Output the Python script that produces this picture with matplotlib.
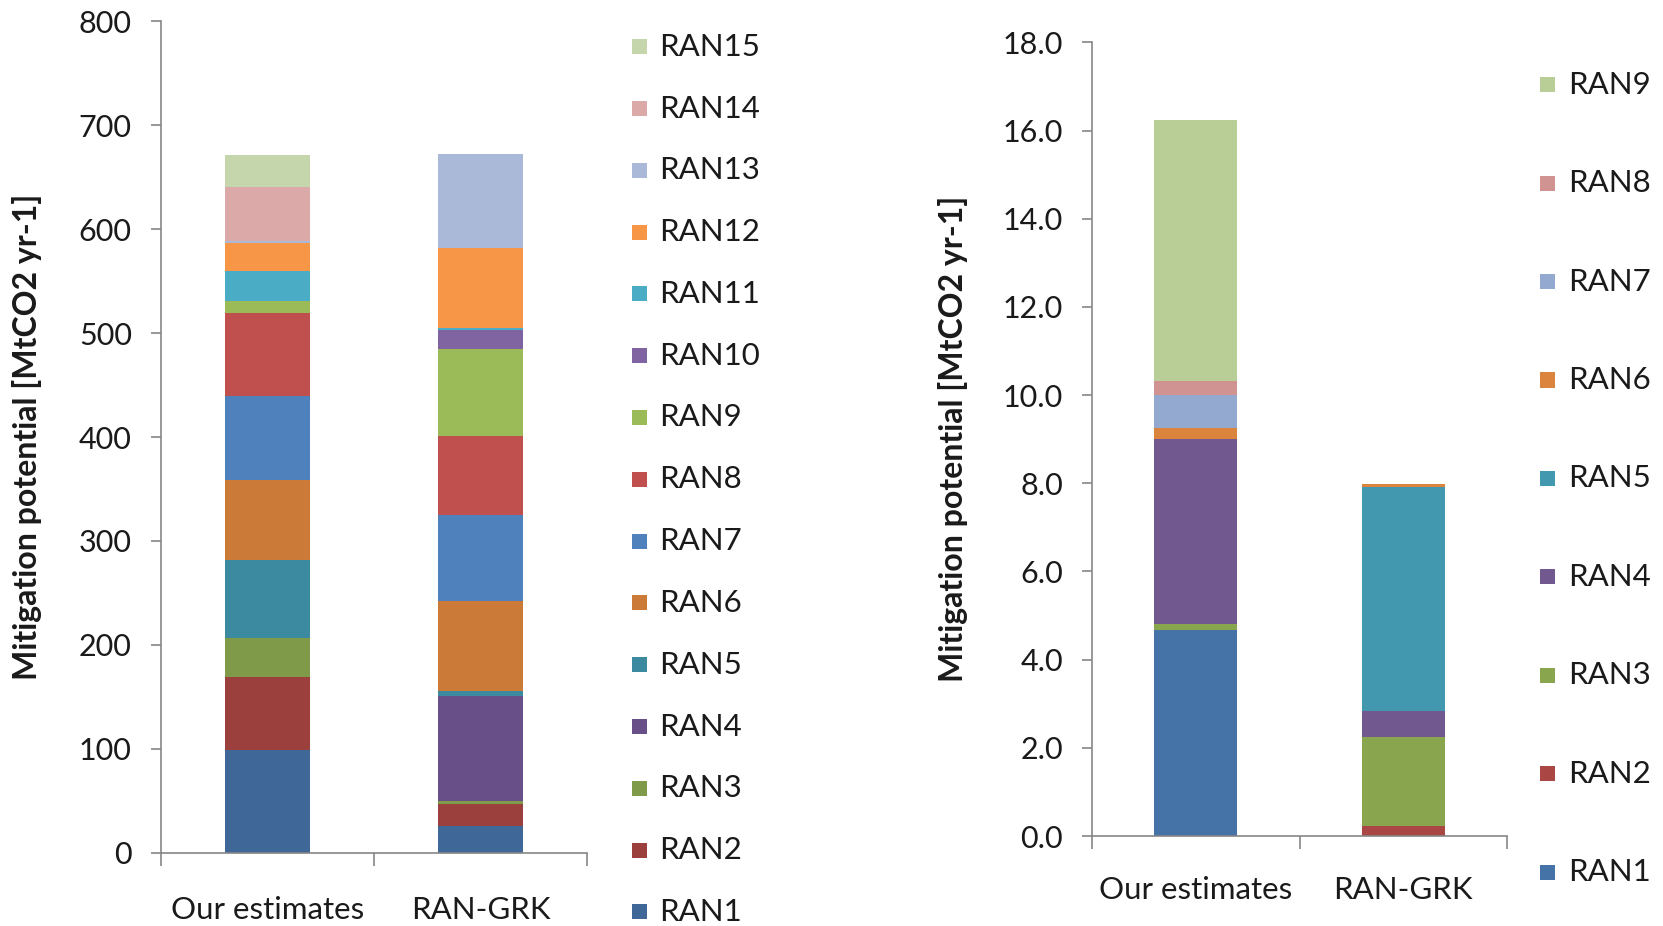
import numpy as np
import matplotlib
matplotlib.use("Agg")
import matplotlib.pyplot as plt
from matplotlib.patches import Rectangle


plt.rcParams["font.family"] = ["Lato", "DejaVu Sans"]


# Data

categories = ["Our estimates", "RAN-GRK"]

left_labels = [f"RAN{i}" for i in range(1, 16)]
ours_left = [99, 70, 38, 0, 75, 77, 80, 80, 12, 0, 29, 27, 1, 52, 31]
grk_left = [26, 21, 3, 101, 5, 86, 83, 76, 84, 18, 2, 77, 90, 0, 0]
left_colors = ["#3F6797", "#9C403E", "#7F9A48", "#694F87", "#3B8AA0",
               "#CB7A38", "#4F81BD", "#C0504D", "#9BBB59", "#8064A2",
               "#4BACC6", "#F79646", "#AAB9D7", "#DAA9A8", "#C6D6AC"]
left_yticks = [0, 100, 200, 300, 400, 500, 600, 700, 800]

right_labels = [f"RAN{i}" for i in range(1, 10)]
ours_right = [4.67, 0, 0.14, 4.19, 0, 0.25, 0.75, 0.31, 5.92]
grk_right = [0, 0.23, 2.02, 0.59, 5.08, 0.07, 0, 0, 0]
right_colors = ["#4572A7", "#AA4643", "#89A54E", "#71588F", "#4198AF",
                "#DB843D", "#93A9CF", "#D19392", "#B9CD96"]
right_yticks = [0, 2, 4, 6, 8, 10, 12, 14, 16, 18]

ylabel = "Mitigation potential [MtCO2 yr-1]"
axis_grey = "#868686"
text_col = "#1a1a1a"

W, H = 1663, 926
fig = plt.figure(figsize=(W / 100, H / 100), dpi=100)


def px_axes(x0, x1, y_top, y_bottom):
    # axes from pixel box (origin top-left)
    return fig.add_axes([x0 / W, (H - y_bottom) / H, (x1 - x0) / W, (y_bottom - y_top) / H])


def stacked(ax, ours, grk, colors, yticks, fmt, xpad, label_x):
    x = np.arange(len(categories))
    bottoms = np.zeros(len(categories))
    for i in range(len(ours)):
        vals = np.array([ours[i], grk[i]])
        ax.bar(x, vals, width=0.4, bottom=bottoms, color=colors[i], linewidth=0)
        bottoms += vals

    ax.set_xlim(-0.5, 1.5)
    ax.set_ylim(yticks[0], yticks[-1])
    ax.set_yticks(yticks)
    ax.set_yticklabels([fmt.format(v) for v in yticks])
    ax.set_xticks(x)
    ax.set_xticklabels(categories)
    ax.set_xticks([-0.5, 0.5, 1.5], minor=True)

    for s in ["top", "right"]:
        ax.spines[s].set_visible(False)
    for s in ["left", "bottom"]:
        ax.spines[s].set_color(axis_grey)
        ax.spines[s].set_linewidth(1.2)

    ax.tick_params(axis="y", direction="out", length=7, width=1.2, color=axis_grey,
                   labelsize=22, pad=14, labelcolor=text_col)
    ax.tick_params(axis="x", which="major", length=0, labelsize=22.5, pad=xpad,
                   labelcolor=text_col)
    ax.tick_params(axis="x", which="minor", direction="out", length=9, width=1.2,
                   color=axis_grey)

    ax.set_ylabel(ylabel, fontsize=23, fontweight="bold", color=text_col)
    ax.yaxis.set_label_coords(label_x, 0.5)


def legend(labels, colors, x_box, x_text, y_first, step):
    # manual legend, top entry is the last series
    for k, (lab, col) in enumerate(zip(labels[::-1], colors[::-1])):
        yc = y_first + k * step
        fig.patches.append(Rectangle((x_box / W, (H - yc - 7.5) / H), 15 / W, 15 / H,
                                     transform=fig.transFigure, facecolor=col,
                                     edgecolor="none"))
        fig.text(x_text / W, (H - yc) / H, lab, fontsize=22.5, va="center", ha="left",
                 color=text_col)


ax1 = px_axes(161, 587, 21, 853)
stacked(ax1, ours_left, grk_left, left_colors, left_yticks, "{:d}", 31, -0.28)
legend(left_labels, left_colors, 632, 659, 46.7, 61.8)

ax2 = px_axes(1092, 1507, 42.4, 836)
stacked(ax2, ours_right, grk_right, right_colors, right_yticks, "{:.1f}", 29, -0.30)
legend(right_labels, right_colors, 1540, 1568, 84.8, 98.4)

fig.savefig("out.png", dpi=100, facecolor="white")
